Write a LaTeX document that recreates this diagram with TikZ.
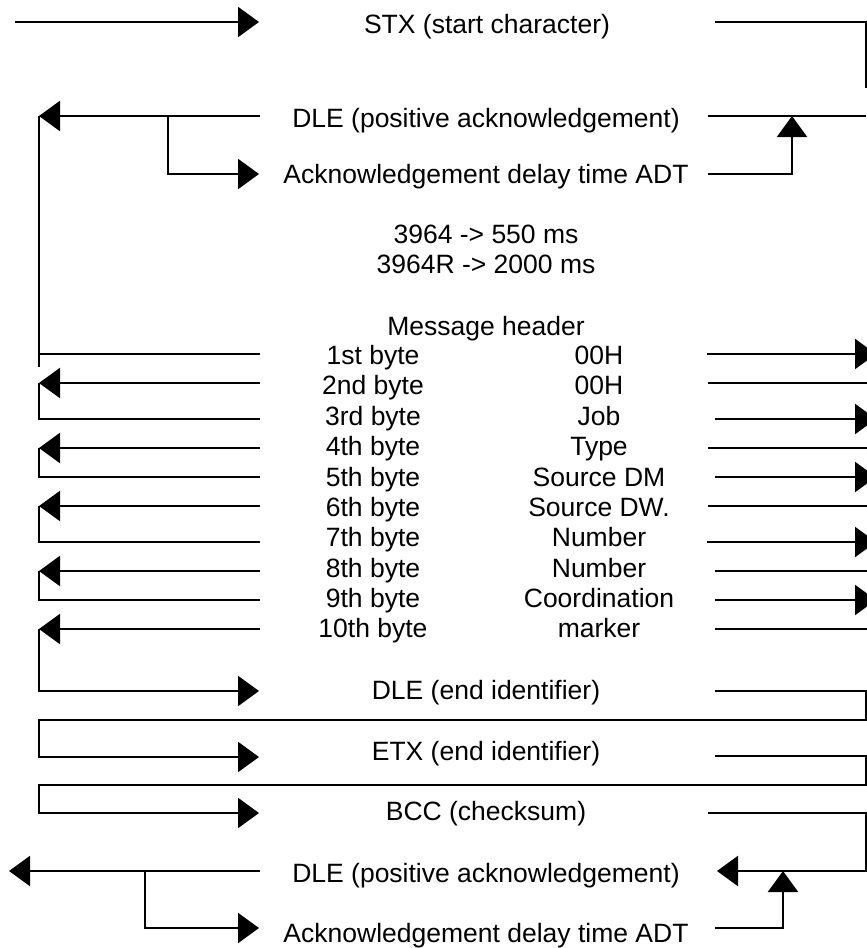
\documentclass[tikz,border=0pt]{standalone}
\usepackage{fontspec}
\setmainfont{Liberation Sans}
\usetikzlibrary{arrows.meta}
\begin{document}
\begin{tikzpicture}[x=1pt,y=-1pt,
  wire/.style={line width=2.2pt},
  arr/.style={wire,-{Triangle[length=21pt,width=30pt]}},
  lbl/.style={anchor=base,inner sep=0pt,font=\fontsize{26.5}{32}\selectfont}]
\useasboundingbox (0,0) rectangle (867,948);

% ---- labels ----
\node[lbl] (stx)  at (487,33)  {STX (start character)};
\node[lbl] (ack1) at (486,127) {DLE (positive acknowledgement)};
\node[lbl] (adt1) at (486,183) {Acknowledgement delay time ADT};
\node[lbl] (tm1)  at (486,243) {3964 -> 550 ms};
\node[lbl] (tm2)  at (486,273) {3964R -> 2000 ms};
\node[lbl] (hdr)  at (486,335) {Message header};
\foreach \i/\y/\v in {1st/364/00H, 2nd/394/00H, 3rd/425/Job, 4th/455/Type,
    5th/486/Source DM, 6th/516/Source DW., 7th/546/Number, 8th/577/Number,
    9th/607/Coordination, 10th/637/marker}{
  \node[lbl] (byte\i) at (373,\y) {\i\ byte};
  \node[lbl] (val\i)  at (599,\y) {\v};
}
\node[lbl] (dle)  at (486,699) {DLE (end identifier)};
\node[lbl] (etx)  at (486,760) {ETX (end identifier)};
\node[lbl] (bcc)  at (486,820) {BCC (checksum)};
\node[lbl] (ack2) at (486,882) {DLE (positive acknowledgement)};
\node[lbl] (adt2) at (486,942) {Acknowledgement delay time ADT};

% ---- connection points ----
\coordinate (stxIn)  at (15,22);   \coordinate (stxTip) at (259,22);
\coordinate (stxOut) at (715,22);  \coordinate (stxCor) at (866,22);
\coordinate (stxEnd) at (866,88);
\coordinate (ackR)   at (260,116); \coordinate (ackL)   at (39,116);
\coordinate (ackBr)  at (168,116); \coordinate (adtCor) at (168,174);
\coordinate (adtTip) at (259,174);
\coordinate (ackOut) at (708,116); \coordinate (ackEnd) at (866,116);
\coordinate (adtOut) at (708,174); \coordinate (adtUp)  at (792,174);
\coordinate (adtTop) at (792,116);
\coordinate (rail)   at (39,367);

% ---- start / acknowledgement ----
\draw[arr]  (stxIn) -- (stxTip);
\draw[wire] (stxOut) -- (stxCor) -- (stxEnd);
\draw[arr]  (ackR) -- (ackL);
\draw[arr]  (ackBr) -- (adtCor) -- (adtTip);
\draw[wire] (ackL) -- (rail);
\draw[wire] (ackOut) -- (ackEnd);
\draw[arr]  (adtOut) -- (adtUp) -- (adtTop);

% ---- message header bytes ----
\draw[wire] (39,354) coordinate (h1L) -- (260,354) coordinate (h1R);
\foreach \y/\s in {354/707, 419/715, 477/715, 542/707, 600/715}
  \draw[arr] (\s,\y) coordinate (ro\y) -- (876,\y) coordinate (re\y);
\foreach \y/\s in {383/708, 448/708, 506/708, 571/715, 629/715}
  \draw[wire] (\s,\y) coordinate (ri\y) -- (867,\y) coordinate (rj\y);
\foreach \a/\b in {383/419, 448/477, 506/542, 571/600}{
  \draw[arr]  (260,\a) coordinate (li\a) -- (39,\a) coordinate (lt\a);
  \draw[wire] (lt\a) -- (39,\b) coordinate (lc\b) -- (260,\b) coordinate (lo\b);
}
\draw[arr] (260,629) coordinate (li629) -- (39,629) coordinate (lt629);

% ---- end identifiers, checksum ----
\coordinate (dleL) at (39,691);   \coordinate (dleTip) at (259,691);
\coordinate (dleOut) at (715,691);
\coordinate (etxOut) at (715,756); \coordinate (etxTip) at (259,757);
\coordinate (bccOut) at (708,813); \coordinate (bccTip) at (259,813);
\coordinate (ackIn)  at (717,871);
\draw[arr] (lt629) -- (dleL) -- (dleTip);
\draw[arr] (dleOut) -- (866,691) -- (866,720) -- (39,720) -- (39,757) -- (etxTip);
\draw[arr] (etxOut) -- (866,756) -- (866,785) -- (39,785) -- (39,813) -- (bccTip);
\draw[arr] (bccOut) -- (866,813) -- (866,871) -- (ackIn);

% ---- final acknowledgement ----
\coordinate (ack2R) at (260,871); \coordinate (ack2L) at (9,871);
\coordinate (ack2Br) at (145,871); \coordinate (adt2Tip) at (259,928);
\coordinate (adt2Out) at (715,928); \coordinate (adt2Top) at (783,871);
\draw[arr] (ack2R) -- (ack2L);
\draw[arr] (ack2Br) -- (145,928) -- (adt2Tip);
\draw[arr] (adt2Out) -- (783,928) -- (adt2Top);
\end{tikzpicture}
\end{document}
